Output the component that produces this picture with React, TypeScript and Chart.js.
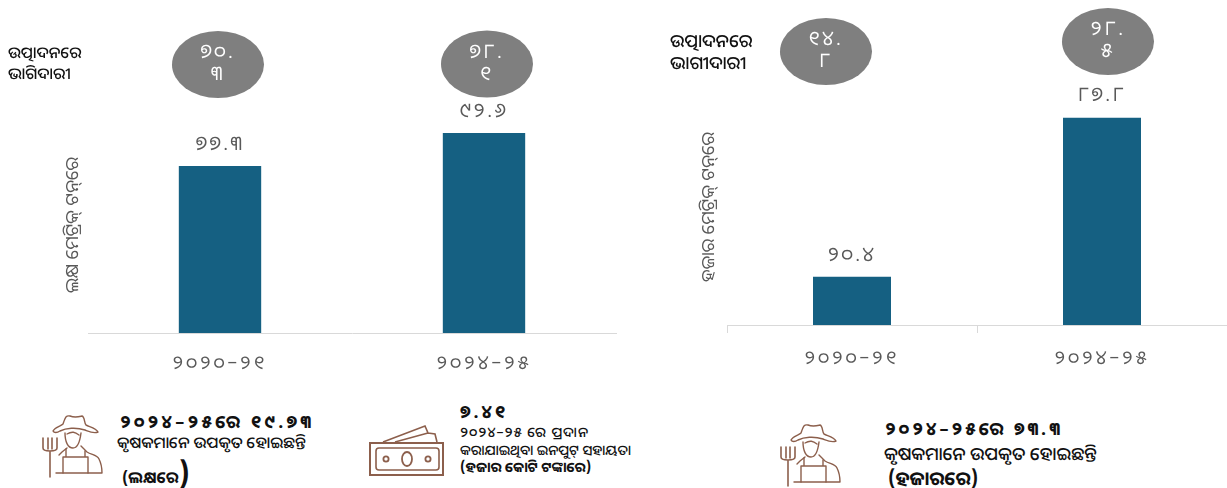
import React, { useEffect, useRef } from "react";
import { Chart, registerables } from "chart.js";

Chart.register(...registerables);

const FONT = '"Noto Sans Oriya", "Lohit Odia", "Noto Sans", "DejaVu Sans", sans-serif';

const categories = ["୨୦୨୦–୨୧", "୨୦୨୪–୨୫"];
const productionLakh = [77.3, 92.6];
const productionThousand = [20.4, 87.8];
const shareLeft = [70.3, 78.1];
const shareRight = [14.8, 28.5];
const titleLeft = "ଲକ୍ଷ ମେଟ୍ରିକ୍ ଟନ୍‌ରେ";
const titleRight = "ହଜାର ମେଟ୍ରିକ୍ ଟନ୍‌ରେ";

const odiaDigits = "୦୧୨୩୪୫୬୭୮୯";
const toOdia = (n: number) =>
  n.toFixed(1).replace(/[0-9]/g, (d) => odiaDigits[Number(d)]);

const GREY = "#595959";
const BAR = "#156082";
const BUBBLE = "#7f7f7f";

const labelPlugin = {
  id: "panelLabels",
  afterDatasetsDraw(chart: any, _args: any, opts: any) {
    const { ctx, scales } = chart;
    const y = scales.y;
    const x = scales.x;
    const values: number[] = chart.data.datasets[0].data;
    ctx.save();
    ctx.textAlign = "center";
    ctx.textBaseline = "middle";
    values.forEach((v: number, i: number) => {
      const bx = x.getPixelForValue(i);
      ctx.save();
      if (opts.labelClip[i] !== null) {
        ctx.beginPath();
        ctx.rect(bx - 60, 0, 120, opts.labelClip[i]);
        ctx.clip();
      }
      ctx.fillStyle = GREY;
      ctx.font = `20px ${FONT}`;
      ctx.letterSpacing = "2.5px";
      ctx.fillText(toOdia(v), bx, y.getPixelForValue(v) - opts.labelGap);
      ctx.restore();

      const ex = bx + opts.bubbleDx[i];
      const ey = opts.bubbleY[i];
      ctx.fillStyle = BUBBLE;
      ctx.beginPath();
      ctx.ellipse(ex, ey, 46, 33.5, 0, 0, Math.PI * 2);
      ctx.fill();
      const [a, b] = toOdia(opts.shares[i]).split(".");
      ctx.fillStyle = "#ffffff";
      ctx.font = `20px ${FONT}`;
      ctx.letterSpacing = "2.5px";
      ctx.fillText(a + ".", ex, ey - 12);
      ctx.fillText(b, ex, ey + 10);
    });
    ctx.restore();
    // The tick labels are drawn in the layer right after this hook.
    ctx.letterSpacing = "3px";
  },
  afterDraw(chart: any) {
    chart.ctx.letterSpacing = "0px";
  },
};

function Panel(props: {
  left: number;
  width: number;
  height: number;
  values: number[];
  shares: number[];
  title: string;
  plotLeft: number;
  plotTop: number;
  rightPad: number;
  titlePad: number;
  ticks: boolean;
  bubbleDx: number[];
  bubbleY: number[];
  labelClip: (number | null)[];
}) {
  const ref = useRef<HTMLCanvasElement>(null);
  useEffect(() => {
    const chart = new Chart(ref.current!, {
      type: "bar",
      data: {
        labels: categories,
        datasets: [
          {
            data: props.values,
            backgroundColor: BAR,
            categoryPercentage: 1,
            barPercentage: 0.312,
          },
        ],
      },
      options: {
        responsive: false,
        animation: false,
        layout: { padding: { top: props.plotTop, right: props.rightPad, bottom: 0, left: 0 } },
        plugins: {
          legend: { display: false },
          tooltip: { enabled: false },
          panelLabels: {
            labelGap: 22,
            bubbleDx: props.bubbleDx,
            bubbleY: props.bubbleY,
            shares: props.shares,
            labelClip: props.labelClip,
          },
        } as any,
        scales: {
          x: {
            afterFit: (a: any) => {
              a.height = 62;
            },
            border: { color: "#d9d9d9" },
            grid: {
              display: props.ticks,
              drawOnChartArea: false,
              drawTicks: props.ticks,
              tickLength: 8,
              color: "#d9d9d9",
            },
            ticks: {
              color: GREY,
              font: { family: FONT, size: 19 },
              padding: props.ticks ? 14 : 19,
              maxRotation: 0,
              z: 1,
            },
          },
          y: {
            min: 0,
            max: 100,
            afterFit: (a: any) => {
              a.width = props.plotLeft;
            },
            border: { display: false },
            grid: { display: false },
            ticks: { display: false },
            title: {
              display: true,
              text: props.title,
              color: GREY,
              font: { family: FONT, size: 18 },
              padding: { top: props.titlePad, bottom: 0 },
            },
          },
        },
      },
      plugins: [labelPlugin],
    } as any);
    return () => chart.destroy();
  }, []);
  return (
    <canvas
      ref={ref}
      width={props.width}
      height={props.height}
      style={{ position: "absolute", left: props.left, top: 0, width: props.width, height: props.height }}
    />
  );
}

const ICON = "#8c5f4c";

function Farmer({ x, y }: { x: number; y: number }) {
  return (
    <svg
      viewBox="0 0 80 83"
      width={80}
      height={83}
      style={{ position: "absolute", left: x, top: y }}
      fill="none"
      stroke={ICON}
      strokeWidth={1.4}
      strokeLinejoin="round"
      strokeLinecap="round"
    >
      <path d="M23 26 C25 22 31 21 33 19 C35 14 35 10 40 11 C45 13 48 12 52 11 C55 12 54 18 56 20 C60 22 66 23 68 27 C64 29 60 27 55 25 C46 22 36 23 30 26 C27 28 24 28 23 26 Z" />
      <path d="M35 28 C35 37 38 43 43 43 C48 43 50 36 51 28 M37 29 C42 26 45 27 49 30" />
      <path d="M37 43 L32 47 L29 50 M51 41 L57 47 C62 50 67 50 69 54 C71 58 72 62 72 68 L26 68" />
      <path d="M36 44 V52 H37 M55 46 V52 M33 52 H58 V68 M33 52 V68" />
      <path d="M13 33 V43 C13 47 27 47 27 43 V33 M18 33 V44 M22 33 V44 M20 47 V72" strokeWidth={1.6} />
    </svg>
  );
}

function Money({ x, y }: { x: number; y: number }) {
  return (
    <svg
      viewBox="0 0 90 68"
      width={90}
      height={68}
      style={{ position: "absolute", left: x, top: y }}
      fill="none"
      stroke={ICON}
      strokeWidth={1.6}
    >
      <path d="M23 22 L65 6 L68 13 L35 22 M68 13 L75 14 L77 22" />
      <rect x="10" y="23" width="73" height="32" strokeWidth={2} />
      <rect x="16" y="28" width="63" height="22" rx="3" />
      <ellipse cx="47" cy="39" rx="5" ry="7" strokeWidth={1.8} />
      <circle cx="26" cy="39" r="2.6" strokeWidth={1.8} />
      <circle cx="68" cy="39" r="2.6" strokeWidth={1.8} />
    </svg>
  );
}

function Txt(props: { x: number; y: number; size: number; bold?: boolean; children: React.ReactNode; spacing?: number }) {
  return (
    <div
      style={{
        position: "absolute",
        left: props.x,
        top: props.y,
        fontFamily: FONT,
        fontSize: props.size,
        fontWeight: props.bold ? 700 : 500,
        lineHeight: 1,
        whiteSpace: "nowrap",
        color: "#111111",
        letterSpacing: props.spacing ?? 0,
        transform: "translateY(-50%)",
      }}
    >
      {props.children}
    </div>
  );
}

export default function App() {
  return (
    <div style={{ position: "absolute", left: 0, top: 0, width: 1227, height: 488, overflow: "hidden", background: "#fff" }}>
      <Panel
        left={0}
        width={620}
        height={395}
        values={productionLakh}
        shares={shareLeft}
        title={titleLeft}
        plotLeft={88}
        plotTop={117}
        rightPad={4}
        titlePad={62}
        ticks={false}
        bubbleDx={[-2, 3]}
        bubbleY={[64.5, 64]}
        labelClip={[null, null]}
      />
      <Panel
        left={620}
        width={607}
        height={387}
        values={productionThousand}
        shares={shareRight}
        title={titleRight}
        plotLeft={107}
        plotTop={89}
        rightPad={0}
        titlePad={78}
        ticks={true}
        bubbleDx={[-26, 6]}
        bubbleY={[51.5, 41.5]}
        labelClip={[null, 101]}
      />

      <Txt x={8} y={52} size={16}>ଉତ୍ପାଦନରେ</Txt>
      <Txt x={8} y={73} size={16}>ଭାଗିଦାରୀ</Txt>
      <Txt x={670} y={40} size={18}>ଉତ୍ପାଦନରେ</Txt>
      <Txt x={670} y={62} size={18}>ଭାଗୀଦାରୀ</Txt>

      <Farmer x={30} y={405} />
      <Txt x={120} y={421} size={18} bold spacing={3.3}>୨୦୨୪–୨୫ରେ ୧୯.୭୩</Txt>
      <Txt x={117} y={442} size={16}>କୃଷକମାନେ ଉପକୃତ ହୋଇଛନ୍ତି</Txt>
      <Txt x={122} y={472} size={16} bold>(ଲକ୍ଷରେ<span style={{ fontSize: 28 }}>)</span></Txt>

      <Money x={360} y={420} />
      <Txt x={460} y={411} size={18} bold spacing={3}>୭.୪୧</Txt>
      <Txt x={460} y={432} size={14} spacing={1.1}>୨୦୨୪–୨୫ ରେ ପ୍ରଦାନ</Txt>
      <Txt x={460} y={450} size={14}>କରାଯାଇଥିବା ଇନପୁଟ୍ ସହାୟତା</Txt>
      <Txt x={460} y={467} size={14} bold>(ହଜାର କୋଟି ଟଙ୍କାରେ)</Txt>

      <Farmer x={768} y={414} />
      <Txt x={885} y={428} size={18} bold spacing={3.1}>୨୦୨୪–୨୫ରେ ୭୩.୩</Txt>
      <Txt x={884} y={453} size={18}>କୃଷକମାନେ ଉପକୃତ ହୋଇଛନ୍ତି</Txt>
      <Txt x={888} y={478} size={19} bold>(ହଜାରରେ)</Txt>
    </div>
  );
}
